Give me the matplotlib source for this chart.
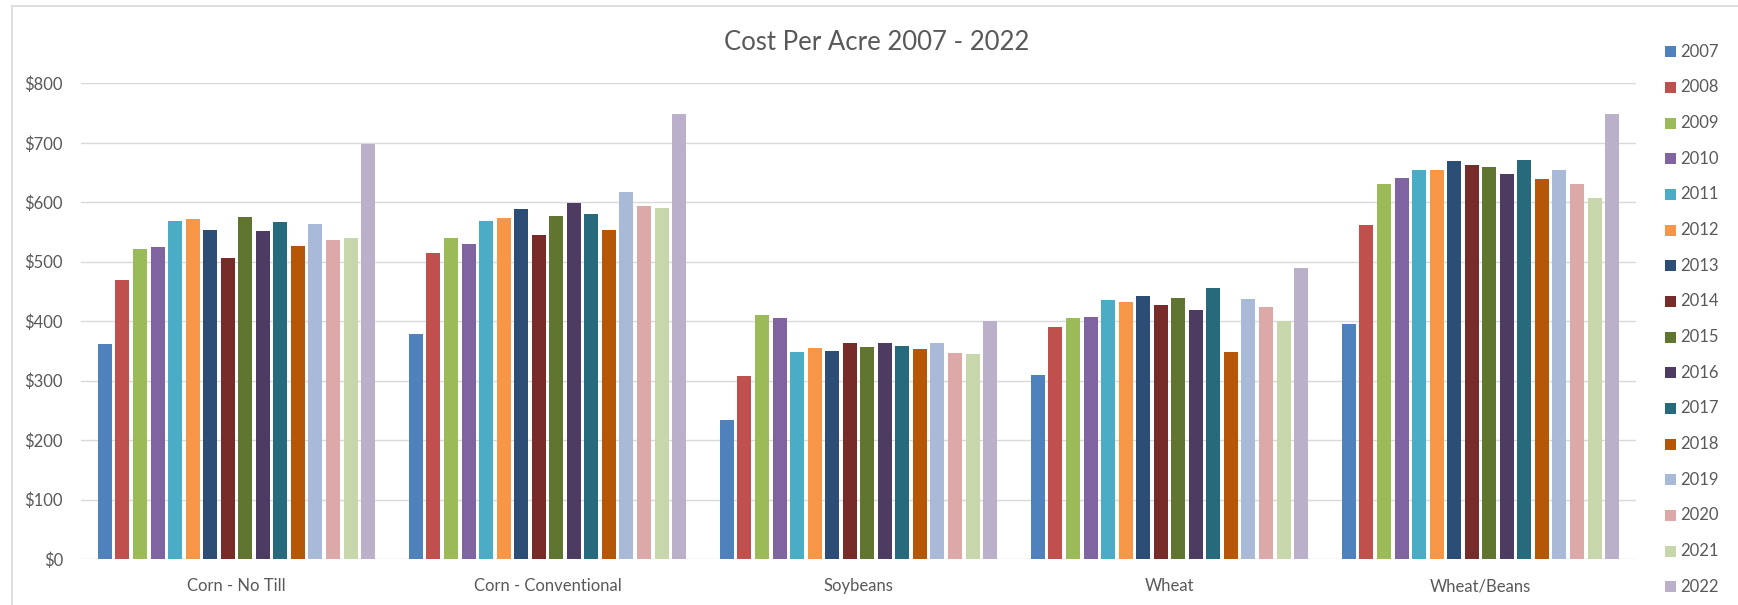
import matplotlib
matplotlib.use("Agg")
import matplotlib.pyplot as plt
from matplotlib.patches import Rectangle
from matplotlib.lines import Line2D
from matplotlib.ticker import FuncFormatter
import numpy as np

plt.rcParams['font.family'] = ['Lato', 'DejaVu Sans']

categories = ["Corn - No Till", "Corn - Conventional", "Soybeans", "Wheat", "Wheat/Beans"]
years = ["2007", "2008", "2009", "2010", "2011", "2012", "2013", "2014",
         "2015", "2016", "2017", "2018", "2019", "2020", "2021", "2022"]

corn_no_till = [362, 470, 521, 525, 568, 572, 553, 506, 575, 552, 566, 526, 563, 537, 539, 698]
corn_conventional = [379, 515, 539, 530, 568, 573, 588, 545, 576, 598, 581, 554, 618, 593, 591, 748]
soybeans = [234, 307, 410, 405, 348, 355, 350, 364, 357, 364, 358, 354, 363, 346, 345, 401]
wheat = [309, 390, 406, 407, 436, 433, 442, 427, 439, 418, 456, 348, 437, 424, 400, 489]
wheat_beans = [395, 562, 630, 640, 654, 655, 669, 662, 659, 648, 671, 639, 655, 630, 607, 749]

colors = ["#4F81BD", "#C0504D", "#9BBB59", "#8064A2", "#4BACC6", "#F79646",
          "#2C4D75", "#772C2A", "#5F7530", "#4D3B62", "#276A7C", "#B65708",
          "#A9BAD8", "#DCA9A8", "#C7D6AB", "#BAB0CA"]

title = "Cost Per Acre 2007 - 2022"
yticks = [0, 100, 200, 300, 400, 500, 600, 700, 800]

W, H = 1738, 605
fig = plt.figure(figsize=(W / 100, H / 100), dpi=100)
fig.patch.set_facecolor("white")

left, right, top, bottom = 81, 1636, 83.3, 559
ax = fig.add_axes([left / W, 1 - bottom / H, (right - left) / W, (bottom - top) / H])

data = np.array([corn_no_till, corn_conventional, soybeans, wheat, wheat_beans])  # cat x year
n = len(years)
group = 0.9025
slot = group / n
x = np.arange(len(categories))
for i, (yr, c) in enumerate(zip(years, colors)):
    ax.bar(x + (i - (n - 1) / 2) * slot, data[:, i], width=slot * 0.8, color=c,
           label=yr, zorder=3, linewidth=0)

ax.set_xlim(-0.5, len(categories) - 0.5)
ax.set_ylim(0, 800)
ax.set_yticks(yticks)
ax.yaxis.set_major_formatter(FuncFormatter(lambda v, p: f"${int(v)}"))
ax.set_xticks(x)
ax.set_xticklabels(categories)
ax.tick_params(axis="both", length=0, colors="#595959", labelsize=12)
ax.tick_params(axis="y", pad=13)
ax.tick_params(axis="x", pad=14)
ax.grid(axis="y", color="#d9d9d9", linewidth=1.0, zorder=0)
for s in ax.spines.values():
    s.set_visible(False)
ax.set_facecolor("white")

fig.text(877 / W, 1 - 42 / H, title, ha="center", va="center", fontsize=18.5, color="#595959")

# legend
for i, (yr, c) in enumerate(zip(years, colors)):
    yc = 51.7 + i * 35.67
    fig.add_artist(Rectangle((1665 / W, 1 - (yc + 5.5) / H), 11 / W, 11 / H,
                             transform=fig.transFigure, facecolor=c, edgecolor="none"))
    fig.text(1680.5 / W, 1 - yc / H, yr, ha="left", va="center", fontsize=12, color="#595959")

# chart frame (partially visible)
fig.add_artist(Line2D([12 / W, 12 / W], [0, 1 - 6.3 / H], transform=fig.transFigure,
                      color="#d9d9d9", linewidth=1.2))
fig.add_artist(Line2D([12 / W, 1], [1 - 6.3 / H, 1 - 6.3 / H], transform=fig.transFigure,
                      color="#d9d9d9", linewidth=1.2))

fig.savefig("out.png", dpi=100)
